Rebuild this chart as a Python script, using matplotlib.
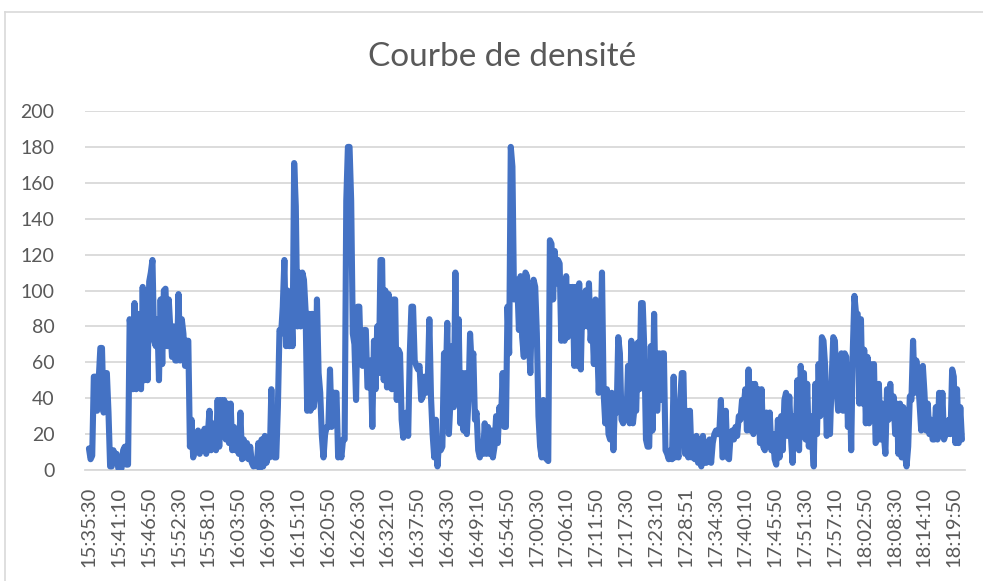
import datetime
import numpy as np
import matplotlib
matplotlib.use("Agg")
import matplotlib.pyplot as plt
from matplotlib.lines import Line2D

plt.rcParams['font.family'] = ['Lato', 'DejaVu Sans']

# densité, dans l'ordre du temps (15:35:30 -> ~18:21)
densite_1 = [12, 6, 8, 52, 52, 33, 50, 68, 68, 32, 54, 54, 32, 2, 2, 11, 7, 9,
             1, 1, 1, 11, 13, 3, 3, 84, 76, 45, 93, 45, 87, 48, 45, 102, 50, 100,
             50, 105, 110, 117, 72, 69, 84, 50, 95, 59, 100, 101, 69, 95, 78, 63,
             80, 61, 61, 98, 61, 84, 76, 58, 72, 72, 13, 28, 7, 11, 20, 22, 9, 19]
densite_2 = [20, 23, 9, 20, 33, 11, 13, 26, 11, 39, 13, 39, 20, 39, 17, 37, 15, 37,
             11, 24, 11, 22, 9, 32, 6, 17, 7, 15, 6, 13, 4, 2, 5, 2, 15, 1, 17, 2,
             19, 4, 11, 7, 45, 9, 7, 7, 35, 78, 76, 91, 117, 69, 100, 69, 98, 69,
             171, 147, 80, 110, 80, 110, 106, 89, 33, 87]
densite_3 = [33, 87, 35, 43, 95, 54, 43, 19, 7, 20, 24, 24, 56, 24, 43, 43, 43, 7,
             13, 7, 17, 17, 150, 180, 180, 150, 76, 70, 39, 91, 91, 59, 58, 78, 78,
             46, 46, 61, 24, 72, 45, 80, 54, 117, 117, 50, 100, 46, 98, 46, 45, 95,
             95, 39, 67, 65, 28, 18, 30, 32, 19, 65, 91, 91, 61, 58, 56, 58, 39, 41]
densite_4 = [52, 43, 48, 84, 41, 20, 7, 28, 2, 17, 11, 13, 65, 45, 82, 20, 39, 69,
             35, 110, 39, 84, 26, 54, 22, 54, 20, 39, 76, 58, 65, 28, 32, 11, 7, 13,
             9, 26, 9, 24, 9, 22, 7, 13, 30, 15, 35, 28, 54, 24, 24, 91, 65, 180,
             169, 95, 106, 104, 78, 108, 74, 63, 110, 108, 76, 54, 91]
densite_5 = [106, 102, 76, 30, 13, 7, 39, 7, 6, 5, 128, 126, 95, 122, 104, 117, 115,
             72, 102, 72, 108, 74, 102, 95, 102, 58, 102, 58, 104, 56, 98, 80, 100,
             80, 104, 72, 84, 59, 95, 72, 43, 69, 110, 43, 26, 45, 20, 17, 43, 11,
             39, 32, 74, 65, 28, 26, 39, 28, 58, 26, 72, 26, 35, 33, 71, 45, 93]
densite_6 = [93, 67, 17, 13, 13, 69, 22, 87, 35, 33, 65, 39, 65, 65, 11, 9, 6, 11,
             6, 52, 7, 11, 7, 39, 54, 54, 9, 33, 7, 33, 7, 11, 6, 19, 4, 6, 2, 19,
             4, 4, 6, 17, 4, 15, 20, 22, 20, 20, 39, 7, 9, 33, 7, 6, 20, 22, 17, 24,
             19, 30, 28, 39, 35, 45, 22, 56]
densite_7 = [22, 48, 20, 48, 22, 45, 15, 45, 13, 11, 32, 13, 32, 11, 20, 6, 3, 28,
             7, 30, 11, 39, 43, 19, 41, 19, 4, 30, 20, 50, 11, 58, 45, 54, 17, 48,
             13, 30, 17, 2, 48, 20, 59, 30, 74, 72, 58, 19, 35, 20, 50, 74, 72, 45,
             33, 35, 65, 33, 65, 63, 24, 58, 11, 67, 97, 87]
densite_8 = [87, 37, 84, 37, 67, 26, 63, 26, 59, 28, 59, 15, 17, 48, 17, 37, 20, 9,
             45, 28, 48, 30, 41, 20, 37, 9, 37, 7, 35, 9, 2, 13, 41, 39, 72, 43, 61,
             52, 37, 22, 58, 43, 22, 37, 20, 28, 17, 17, 35, 17, 43, 19, 43, 17, 20,
             20, 28, 20, 56, 52, 15, 45, 15, 35, 17]

heure_debut = "15:35:30"
duree_totale = 9950  # secondes couvertes par les mesures

etiquettes = ["15:35:30", "15:41:10", "15:46:50", "15:52:30", "15:58:10",
              "16:03:50", "16:09:30", "16:15:10", "16:20:50", "16:26:30",
              "16:32:10", "16:37:50", "16:43:30", "16:49:10", "16:54:50",
              "17:00:30", "17:06:10", "17:11:50", "17:17:30", "17:23:10",
              "17:28:51", "17:34:30", "17:40:10", "17:45:50", "17:51:30",
              "17:57:10", "18:02:50", "18:08:30", "18:14:10", "18:19:50"]

densite = (densite_1 + densite_2 + densite_3 + densite_4 + densite_5 +
           densite_6 + densite_7 + densite_8)
t = np.linspace(0, duree_totale, len(densite))


def secondes(h):
    d0 = datetime.datetime.strptime(heure_debut, "%H:%M:%S")
    return (datetime.datetime.strptime(h, "%H:%M:%S") - d0).total_seconds()


gris = "#595959"
fig = plt.figure(figsize=(9.83, 5.81), dpi=100)
ax = fig.add_axes([85 / 983, 111 / 581, 880 / 983, 359 / 581])

ax.plot(t, densite, color="#4472C4", linewidth=4.4,
        solid_joinstyle="round", solid_capstyle="round", zorder=3)

ax.set_ylim(0, 200)
ax.set_yticks(range(0, 201, 20))
ax.set_xlim(-45, 9985)
ax.set_xticks([secondes(h) for h in etiquettes])
ax.set_xticklabels(etiquettes, rotation=90)

ax.grid(axis="y", color="#d9d9d9", linewidth=1.3, zorder=0)
for s in ["top", "right", "left"]:
    ax.spines[s].set_visible(False)
ax.spines["bottom"].set_color("#d9d9d9")
ax.spines["bottom"].set_linewidth(1.3)
ax.tick_params(axis="both", length=0, colors=gris)
ax.tick_params(axis="y", pad=22, labelsize=14)
ax.tick_params(axis="x", pad=12, labelsize=14.5)

fig.text(502 / 983, 1 - 57 / 581, "Courbe de densité", ha="center", va="center",
         fontsize=24, color=gris)

# bord du graphique (coupé en bas et à droite)
fig.add_artist(Line2D([5 / 983, 5 / 983], [0, 1 - 12 / 581], color="#d9d9d9", lw=1.2))
fig.add_artist(Line2D([5 / 983, 1], [1 - 12 / 581, 1 - 12 / 581], color="#d9d9d9", lw=1.2))

fig.savefig("out.png", dpi=100)
